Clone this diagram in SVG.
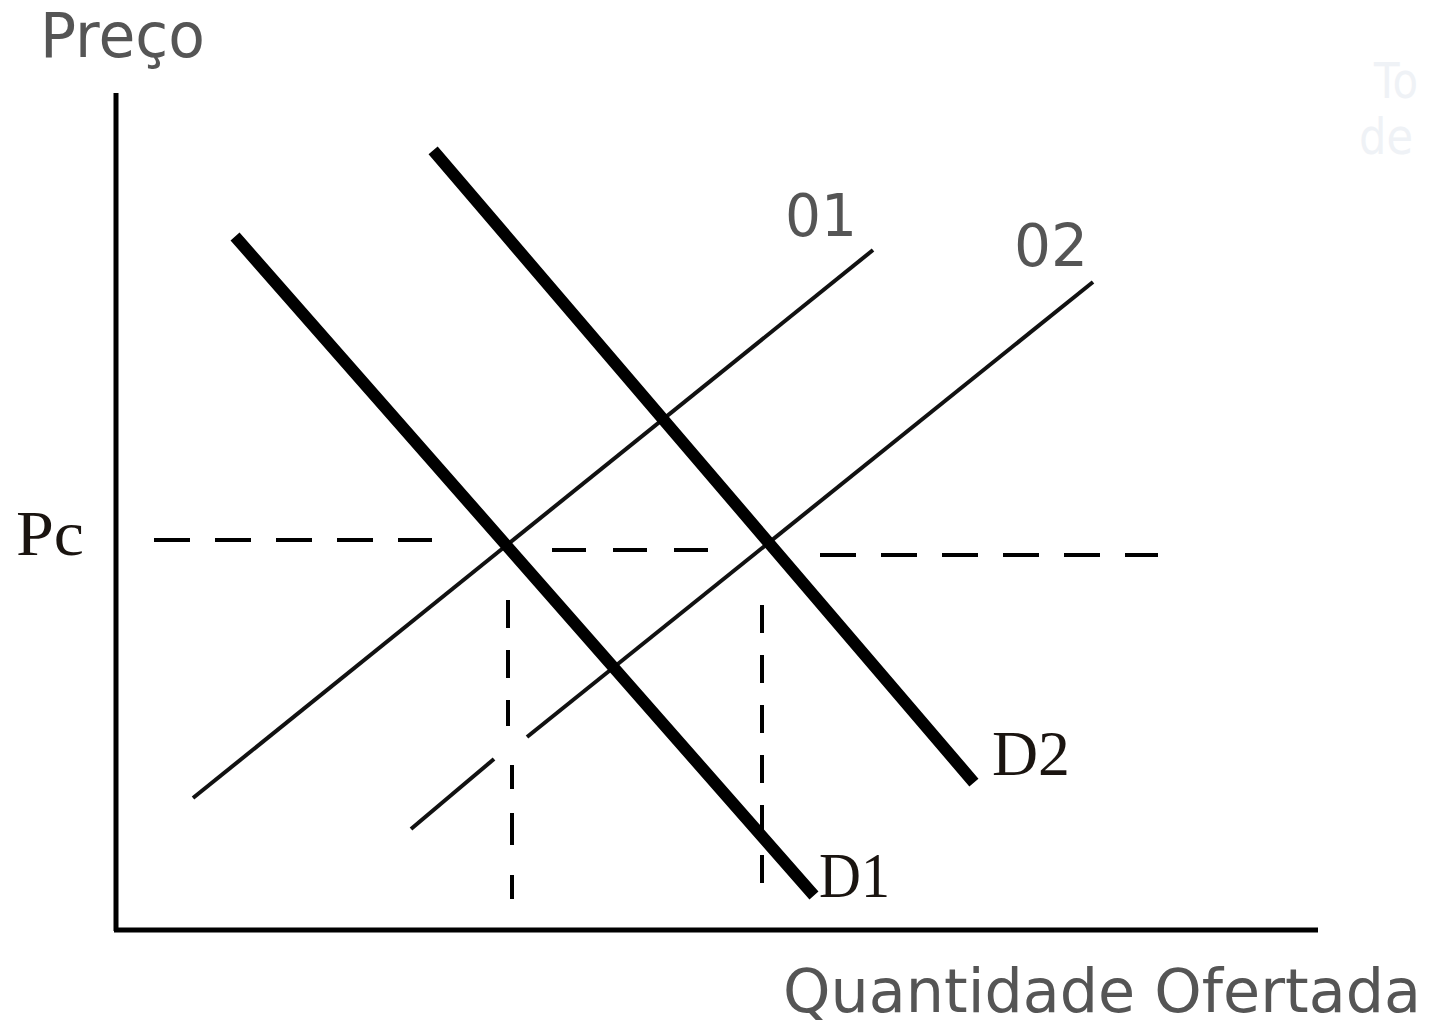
<svg xmlns="http://www.w3.org/2000/svg" width="1430" height="1026" viewBox="0 0 1430 1026">
<style>
.axis{stroke:#000;stroke-width:5;fill:none}
.demand{stroke:#000;stroke-width:12;stroke-linecap:square;fill:none}
.supply{stroke:#111;stroke-width:4;fill:none}
.dash{stroke:#000;stroke-width:4;fill:none}
.gray{font-family:"DejaVu Sans",Verdana,sans-serif;fill:#555}
.serif{font-family:"Liberation Serif","Times New Roman",serif;fill:#1a1410}
.wm{font-family:"DejaVu Sans",sans-serif;fill:#eff2f6}
</style>
<rect width="1430" height="1026" fill="#fff"/>
<g id="watermark">
<text class="wm" x="1374" y="98" font-size="50" textLength="44" lengthAdjust="spacingAndGlyphs">To</text>
<text class="wm" x="1359" y="154" font-size="50" textLength="54" lengthAdjust="spacingAndGlyphs">de</text>
</g>
<g id="axes">
<line class="axis" x1="116" y1="93" x2="116" y2="931"/>
<line class="axis" x1="114" y1="930" x2="1318" y2="930"/>
</g>
<g id="connectors">
<line class="dash" x1="154" y1="540" x2="432" y2="540" stroke-dasharray="36 25"/>
<line class="dash" x1="552" y1="550" x2="710" y2="550" stroke-dasharray="34 27"/>
<line class="dash" x1="820" y1="555" x2="1158" y2="555" stroke-dasharray="36 25"/>
<line class="dash" x1="508" y1="600" x2="508" y2="726" stroke-dasharray="28 22"/>
<line class="dash" x1="512" y1="765" x2="512" y2="905" stroke-dasharray="24 24 32 30"/>
<line class="dash" x1="762" y1="605" x2="762" y2="900" stroke-dasharray="28 22"/>
</g>
<g id="O1">
<line class="supply" x1="193" y1="798" x2="873" y2="250"/>
<text class="gray" x="785" y="236" font-size="58" textLength="72" lengthAdjust="spacingAndGlyphs">01</text>
</g>
<g id="O2">
<line class="supply" x1="411" y1="829" x2="494" y2="759"/>
<line class="supply" x1="527" y1="737" x2="1093" y2="282"/>
<text class="gray" x="1014" y="266" font-size="58" textLength="74" lengthAdjust="spacingAndGlyphs">02</text>
</g>
<g id="D1">
<line class="demand" x1="239" y1="241" x2="810" y2="891"/>
<text class="serif" x="819" y="897" font-size="64" textLength="71" lengthAdjust="spacingAndGlyphs">D1</text>
</g>
<g id="D2">
<line class="demand" x1="437" y1="155" x2="970" y2="778"/>
<text class="serif" x="992" y="775" font-size="64" textLength="78" lengthAdjust="spacingAndGlyphs">D2</text>
</g>
<g id="labels">
<text class="gray" x="40" y="57" font-size="62" textLength="165" lengthAdjust="spacingAndGlyphs">Preço</text>
<text class="serif" x="16" y="555" font-size="64" textLength="68" lengthAdjust="spacingAndGlyphs">Pc</text>
<text class="gray" x="783" y="1012" font-size="61" textLength="638" lengthAdjust="spacingAndGlyphs">Quantidade Ofertada</text>
</g>
</svg>
